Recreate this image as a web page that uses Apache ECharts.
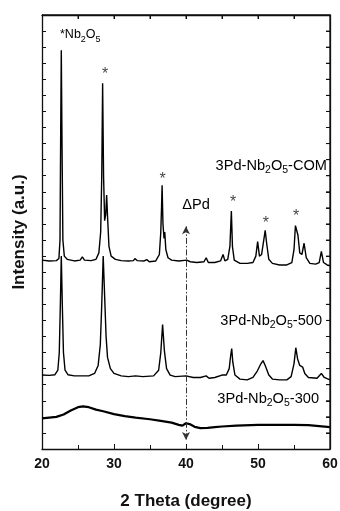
<!DOCTYPE html>
<html>
<head>
<meta charset="utf-8">
<script src="https://cdn.jsdelivr.net/npm/echarts@6/dist/echarts.min.js"></script>
<style>
  html, body { margin: 0; padding: 0; background: #fff; }
  #main { width: 340px; height: 511px; }
</style>
</head>
<body>
<div id="main"></div>
<script>
// 2θ (degree) / intensity (a.u., stacked offsets)
var comData = [
    [20, 11.75], [21, 11.7], [22, 11.72], [22.35, 11.85], [22.5, 13], [22.6, 20], [22.68, 24.8], [22.78, 19],
    [22.9, 13], [23.1, 12.0], [23.5, 11.8], [24.5, 11.7], [25.3, 11.75], [25.6, 11.95], [25.9, 11.75],
    [26.8, 11.72], [27.5, 11.8], [27.9, 12.2], [28.15, 13.5], [28.3, 17], [28.42, 22.75], [28.55, 17],
    [28.7, 14.2], [28.85, 14.6], [28.98, 15.8], [29.1, 14.5], [29.3, 12.6], [29.6, 12.0], [30.2, 11.8],
    [31, 11.72], [32, 11.7], [32.7, 11.72], [32.9, 11.85], [33.2, 11.72], [34.2, 11.7], [34.55, 11.78],
    [34.9, 11.65], [35.8, 11.7], [36.3, 12.1], [36.5, 13.5], [36.6, 15], [36.68, 16.4], [36.8, 14],
    [36.95, 13.1], [37.05, 13.5], [37.2, 12.4], [37.5, 11.9], [38, 11.75], [39, 11.7], [40.1, 11.75],
    [40.6, 11.65], [41.5, 11.6], [42.5, 11.65], [42.8, 11.9], [43.1, 11.6], [44, 11.6], [44.8, 11.7],
    [45.15, 12.1], [45.4, 11.7], [45.8, 11.8], [46.1, 12.6], [46.3, 14.8], [46.45, 12.6], [46.7, 11.75],
    [47.5, 11.55], [48.5, 11.55], [49.3, 11.6], [49.7, 12.0], [49.95, 12.9], [50.2, 12.0], [50.5, 12.1],
    [50.8, 13.0], [51.0, 13.6], [51.2, 12.8], [51.5, 11.8], [52, 11.55], [53, 11.45], [54, 11.45],
    [54.7, 11.6], [55.0, 12.4], [55.2, 13.9], [55.35, 14.0], [55.55, 13.3], [55.8, 12.2], [56.1, 12.1],
    [56.4, 12.8], [56.7, 11.9], [57.2, 11.55], [58.0, 11.5], [58.5, 11.6], [58.8, 12.3], [59.1, 11.6],
    [59.6, 11.45], [60, 11.4]
];
var d500Data = [
    [20, 4.6], [21, 4.58], [21.8, 4.62], [22.2, 4.9], [22.4, 6], [22.55, 9], [22.68, 12.0], [22.82, 9],
    [22.98, 6], [23.2, 4.9], [23.6, 4.62], [24.5, 4.55], [25.5, 4.55], [26.5, 4.55], [27.3, 4.7],
    [27.8, 5.2], [28.1, 6.5], [28.3, 9], [28.5, 12.0], [28.7, 9.5], [28.9, 7], [29.1, 5.7], [29.5, 5.0],
    [30, 4.7], [31, 4.55], [32, 4.5], [33, 4.55], [34, 4.5], [35.5, 4.55], [36.2, 4.9], [36.5, 6],
    [36.75, 7.75], [37.0, 6.1], [37.3, 5.0], [37.8, 4.6], [38.5, 4.5], [40, 4.55], [41, 4.45], [42, 4.45],
    [42.8, 4.55], [43.2, 4.4], [44, 4.45], [45, 4.6], [45.6, 4.6], [46.0, 5.0], [46.2, 5.8], [46.35, 6.25],
    [46.5, 5.4], [46.8, 4.6], [47.5, 4.35], [48.5, 4.3], [49.3, 4.45], [49.9, 4.85], [50.4, 5.3],
    [50.7, 5.5], [51.0, 5.2], [51.5, 4.6], [52, 4.35], [53, 4.3], [54, 4.3], [54.6, 4.5], [55.0, 5.3],
    [55.25, 6.3], [55.5, 5.6], [55.8, 5.2], [56.2, 5.1], [56.5, 4.7], [57, 4.45], [58.2, 4.4], [58.8, 4.7],
    [59.2, 4.45], [60, 4.3]
];
var d300Data = [
    [20, 1.9], [21, 1.95], [22, 2.0], [23, 2.15], [24, 2.4], [25, 2.6], [25.7, 2.65], [26.5, 2.6],
    [27.5, 2.45], [28.5, 2.35], [30, 2.17], [31.5, 2.05], [33, 1.95], [35, 1.85], [36.5, 1.75], [38, 1.64],
    [39, 1.5], [39.5, 1.45], [40.0, 1.6], [40.5, 1.55], [41.2, 1.38], [42, 1.3], [43, 1.32], [44, 1.36],
    [45, 1.4], [47, 1.45], [50, 1.5], [53, 1.5], [55, 1.5], [57, 1.48], [58.5, 1.42], [60, 1.36]
];
// Nb2O5 reflections marked with *
var starMarks = [[28.75, 23.3], [36.76, 16.77], [46.53, 15.34], [51.1, 14.03], [55.28, 14.47]];
// ΔPd position (dash-dot arrow)
var pdLine = [[40, 13.85], [40, 0.56]];

var xTicks = { min: 20, max: 60, interval: 10 };
var yTicks = { min: 0, max: 27, interval: 1 };

var font = '"Liberation Sans", Arial, sans-serif';
var ink = '#111';
var richSub = {
    n: { fontSize: 14.6, fontFamily: font, color: ink, lineHeight: 20 },
    s: { fontSize: 10.5, fontFamily: font, color: ink, lineHeight: 10, verticalAlign: 'bottom' }
};
var richSmall = {
    n: { fontSize: 12.5, fontFamily: font, color: ink, lineHeight: 18 },
    s: { fontSize: 9, fontFamily: font, color: ink, lineHeight: 9, verticalAlign: 'bottom' }
};

function label(text, x, y, align, rich) {
    return {
        type: 'text',
        x: x,
        y: y,
        style: {
            text: text,
            textAlign: align,
            textVerticalAlign: 'middle',
            rich: rich || richSub
        }
    };
}

function frameAxis(pos, range, interval, tickLen) {
    return {
        type: 'value',
        gridIndex: 0,
        position: pos,
        min: range.min, max: range.max, interval: interval,
        axisLine: { show: true, onZero: false, lineStyle: { color: ink, width: 1.3 } },
        axisTick: { show: true, inside: true, length: tickLen, lineStyle: { color: ink } },
        axisLabel: { show: false },
        splitLine: { show: false }
    };
}

function seg(x1, y1, x2, y2, w) {
    return {
        type: 'line',
        silent: true,
        z: 10,
        shape: { x1: x1, y1: y1, x2: x2, y2: y2 },
        style: { stroke: ink, lineWidth: w || 1 }
    };
}

var myChart = echarts.init(document.getElementById('main'));

var xBottom = frameAxis('bottom', xTicks, xTicks.interval, 5);
xBottom.name = '2 Theta (degree)';
xBottom.nameLocation = 'middle';
xBottom.nameGap = 44;
xBottom.nameTextStyle = { fontFamily: font, fontSize: 17, fontWeight: 'bold', color: ink };
xBottom.minorTick = { show: true, splitNumber: 2, length: 4, lineStyle: { color: ink } };
xBottom.axisLabel = { show: true, fontFamily: font, fontSize: 14, fontWeight: 'bold', color: ink, margin: 8 };

var yLeft = frameAxis('left', yTicks, yTicks.interval, 4);
yLeft.name = 'Intensity (a.u.)';
yLeft.nameLocation = 'middle';
yLeft.nameGap = 14;
yLeft.nameTextStyle = { fontFamily: font, fontSize: 17, fontWeight: 'bold', color: ink };

var labels = [
    label('{n|3Pd-Nb}{s|2}{n|O}{s|5}{n|-COM}', 327, 166, 'right'),
    label('{n|3Pd-Nb}{s|2}{n|O}{s|5}{n|-500}', 322, 321, 'right'),
    label('{n|3Pd-Nb}{s|2}{n|O}{s|5}{n|-300}', 319, 399, 'right'),
    label('{n|ΔPd}', 196, 205, 'center'),
    label('{n|*Nb}{s|2}{n|O}{s|5}', 60, 35, 'left', richSmall)
];

myChart.setOption({
    animation: false,
    backgroundColor: '#fff',
    grid: {
        left: 42, right: 10, top: 15, bottom: 62,
        outerBoundsMode: 'none', containLabel: false
    },
    xAxis: [xBottom, frameAxis('top', xTicks, 5, 4)],
    yAxis: [yLeft, frameAxis('right', yTicks, yTicks.interval, 4)],
    series: [
        { type: 'line', data: comData, showSymbol: false, lineStyle: { color: '#000', width: 1.4 } },
        { type: 'line', data: d500Data, showSymbol: false, lineStyle: { color: '#000', width: 1.4 } },
        {
            type: 'line', data: d300Data, showSymbol: false, lineStyle: { color: '#000', width: 2.2 },
            markLine: {
                silent: true,
                symbol: ['arrow', 'arrow'],
                symbolSize: [6, 8],
                label: { show: false },
                lineStyle: { color: '#333', width: 1, type: [6, 2, 1.5, 2] },
                data: [[{ coord: pdLine[0] }, { coord: pdLine[1] }]]
            }
        },
        {
            type: 'scatter', xAxisIndex: 1, yAxisIndex: 1, data: starMarks,
            symbol: 'circle', symbolSize: 0, silent: true,
            label: { show: true, position: 'inside', formatter: '*', fontFamily: font, fontSize: 16, color: ink }
        }
    ],
    graphic: labels
});

// top and right sides of the box, placed through the grid's own scales
var lo = myChart.convertToPixel({ gridIndex: 0 }, [xTicks.min, yTicks.min]);
var hi = myChart.convertToPixel({ gridIndex: 0 }, [xTicks.max, yTicks.max]);
var frame = [
    seg(lo[0], hi[1], hi[0], hi[1], 1.3),
    seg(hi[0], hi[1], hi[0], lo[1], 1.3)
];
for (var tx = xTicks.min + 5; tx < xTicks.max; tx += 5) {
    var px = myChart.convertToPixel({ gridIndex: 0 }, [tx, yTicks.max]);
    frame.push(seg(px[0], hi[1], px[0], hi[1] + 4));
}
for (var ty = yTicks.min + yTicks.interval; ty < yTicks.max; ty += yTicks.interval) {
    var py = myChart.convertToPixel({ gridIndex: 0 }, [xTicks.max, ty]);
    frame.push(seg(hi[0], py[1], hi[0] - 4, py[1]));
}
myChart.setOption({ graphic: labels.concat(frame) });
</script>
</body>
</html>
